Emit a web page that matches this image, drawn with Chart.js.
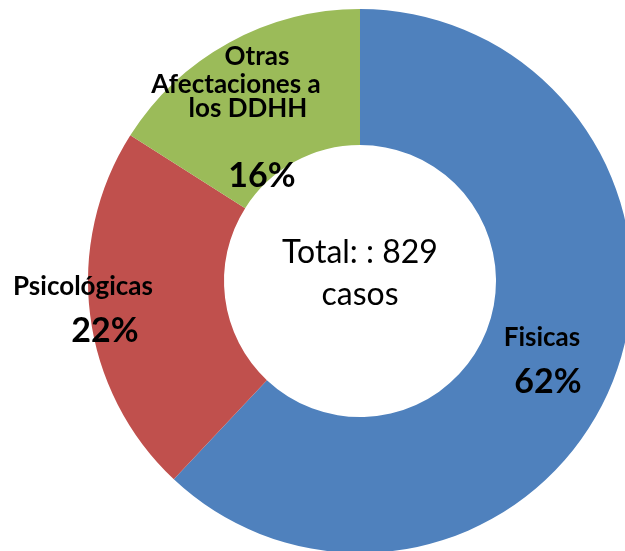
<!DOCTYPE html>
<html>
<head>
<meta charset="utf-8">
<script src="https://cdn.jsdelivr.net/npm/chart.js@4"></script>
<style>
  html, body { margin: 0; padding: 0; background: #fff; overflow: hidden; width: 625px; height: 551px; }
  canvas { display: block; }
</style>
</head>
<body>
<canvas id="donut" width="720" height="562"></canvas>
<script>
const categories = ['Fisicas', 'Psicológicas', 'Otras Afectaciones a los DDHH'];
const percentages = [62, 22, 16];
const totalCases = 829;
const colors = ['#4F81BD', '#C0504D', '#9BBB59'];

// label lines for each slice, offsets from the chart centre
const sliceLabels = [
    { lines: [['Fisicas', 182, 65]], pct: [188, 112] },
    { lines: [['Psicológicas', -277, 14]], pct: [-255, 61] },
    { lines: [['Otras', -103, -216], ['Afectaciones a', -124, -188], ['los DDHH', -112, -164]], pct: [-98, -94] }
];

const labelPlugin = {
    id: 'labelPlugin',
    afterDraw: (chart) => {
        let ctx = chart.ctx;
        let arc = chart.getDatasetMeta(0).data[0];
        let cx = arc.x, cy = arc.y;
        ctx.save();
        ctx.fillStyle = '#000';
        ctx.textAlign = 'center';
        ctx.textBaseline = 'alphabetic';
        sliceLabels.forEach((lbl, i) => {
            ctx.font = 'bold 26px Lato';
            lbl.lines.forEach(l => ctx.fillText(l[0], cx + l[1], cy + l[2]));
            ctx.font = 'bold 34px Lato';
            ctx.fillText(percentages[i] + '%', cx + lbl.pct[0], cy + lbl.pct[1]);
        });
        ctx.font = '32px Lato';
        ctx.fillText('Total: : ' + totalCases, cx, cy - 18);
        ctx.fillText('casos', cx, cy + 24);
        ctx.restore();
    }
};

new Chart(document.getElementById('donut'), {
    type: 'doughnut',
    data: {
        labels: categories,
        datasets: [{
            data: percentages,
            backgroundColor: colors,
            borderWidth: 0
        }]
    },
    options: {
        responsive: false,
        animation: false,
        cutout: '50%',
        layout: { padding: 9 },
        plugins: {
            legend: { display: false },
            tooltip: { enabled: false }
        }
    },
    plugins: [labelPlugin]
});
</script>
</body>
</html>
